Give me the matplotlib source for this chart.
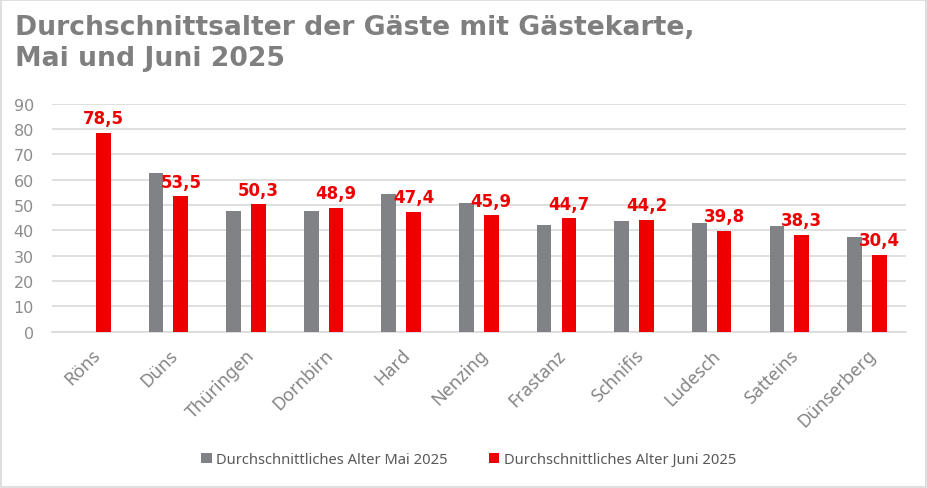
import numpy as np
import matplotlib.pyplot as plt
from matplotlib.patches import Rectangle

orte = ["Röns", "Düns", "Thüringen", "Dornbirn", "Hard", "Nenzing",
        "Frastanz", "Schnifis", "Ludesch", "Satteins", "Dünserberg"]
alter_mai = [np.nan, 62.6, 47.5, 47.6, 54.2, 50.7, 42.1, 43.8, 42.9, 41.6, 37.5]
alter_juni = [78.5, 53.5, 50.3, 48.9, 47.4, 45.9, 44.7, 44.2, 39.8, 38.3, 30.4]
y_ticks = [0, 10, 20, 30, 40, 50, 60, 70, 80, 90]

GREY = "#818286"
RED = "#EE0000"
TXT = "#8c8c8c"

fig = plt.figure(figsize=(9.28, 4.89), dpi=100)
fig.patches.append(Rectangle((0.001, 0.002), 0.997, 0.996, transform=fig.transFigure,
                             fill=False, edgecolor="#d9d9d9", linewidth=1.2))

ax = fig.add_axes([0.056, 0.3196, 0.92, 0.4663])
x = np.arange(len(orte))
w = 0.19
ax.bar(x - 0.16, alter_mai, w, color=GREY, label="Durchschnittliches Alter Mai 2025", zorder=3)
bars = ax.bar(x + 0.16, alter_juni, w, color=RED, label="Durchschnittliches Alter Juni 2025", zorder=3)

for b, v in zip(bars, alter_juni):
    ax.annotate(f"{v:.1f}".replace(".", ","), (b.get_x() + b.get_width() / 2, v),
                xytext=(0, 4), textcoords="offset points", ha="center", va="bottom",
                color=RED, fontsize=12, fontweight="bold", family="DejaVu Sans")

ax.set_xlim(-0.5, len(orte) - 0.5)
ax.set_ylim(0, 90)
ax.set_yticks(y_ticks)
ax.yaxis.grid(True, color="#d9d9d9", linewidth=1.2, zorder=0)
ax.tick_params(axis="y", length=0, labelsize=11.5, labelcolor=TXT, pad=13)
for lab in ax.get_yticklabels():
    lab.set_family("DejaVu Sans")
ax.set_xticks(x)
ax.set_xticklabels(orte, rotation=45, ha="right", rotation_mode="anchor",
                   fontsize=13, color="#858585", family="Noto Sans")
ax.tick_params(axis="x", length=0, pad=10)
for s in ["top", "right", "left"]:
    ax.spines[s].set_visible(False)
ax.spines["bottom"].set_color("#d9d9d9")
ax.spines["bottom"].set_linewidth(1.2)

fig.text(0.016, 0.97, "Durchschnittsalter der Gäste mit Gästekarte,\nMai und Juni 2025",
         ha="left", va="top", fontsize=19.2, fontweight="bold", color="#7f7f7f",
         family="DejaVu Sans", linespacing=1.25)

fig.legend(loc="center", bbox_to_anchor=(0.505, 0.058), ncol=2, frameon=False,
           handlelength=0.7, handleheight=0.7, handletextpad=0.3, columnspacing=2.8,
           prop={"family": "Noto Sans", "size": 10.6}, labelcolor="#595959")

fig.savefig("out.png", dpi=100)
